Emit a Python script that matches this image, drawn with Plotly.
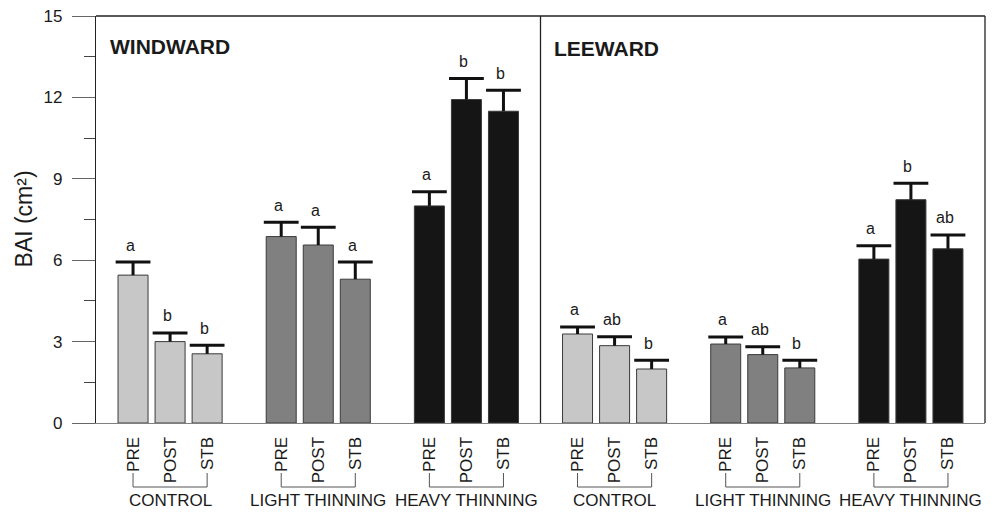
import plotly.graph_objects as go

# ---------------- data ----------------
sites = ["WINDWARD", "LEEWARD"]
groups = ["CONTROL", "LIGHT THINNING", "HEAVY THINNING"]
periods = ["PRE", "POST", "STB"]

windward_bai = [5.45, 3.00, 2.55, 6.87, 6.56, 5.30, 8.00, 11.92, 11.49]
windward_se = [0.48, 0.32, 0.32, 0.53, 0.65, 0.63, 0.52, 0.78, 0.77]
windward_letters = ["a", "b", "b", "a", "a", "a", "a", "b", "b"]

leeward_bai = [3.28, 2.85, 1.99, 2.91, 2.52, 2.03, 6.04, 8.23, 6.42]
leeward_se = [0.26, 0.33, 0.32, 0.26, 0.29, 0.28, 0.49, 0.61, 0.51]
leeward_letters = ["a", "ab", "b", "a", "ab", "b", "a", "b", "ab"]

y_ticks = [0, 3, 6, 9, 12, 15]
y_title = "BAI (cm²)"

# ---------------- styling ----------------
FONT = "Liberation Sans, Arial, Helvetica, sans-serif"
TXT = "#1a1a1a"
group_colors = ["#c6c7c6", "#808080", "#151515"]
BAR_W = 0.81
CAP_HALF = 0.47
PANEL = 12

values = [windward_bai, leeward_bai]
errors = [windward_se, leeward_se]
letters = [windward_letters, leeward_letters]

xs, ys, cols, es, lets = [], [], [], [], []
tickvals, ticktext = [], []
for s in range(len(sites)):
    for g in range(len(groups)):
        for p in range(len(periods)):
            i = g * len(periods) + p
            x = s * PANEL + g * 4 + p + 1
            xs.append(x)
            ys.append(values[s][i])
            es.append(errors[s][i])
            lets.append(letters[s][i])
            cols.append(group_colors[g])
            tickvals.append(x)
            ticktext.append(periods[p])

fig = go.Figure()
fig.add_trace(go.Bar(
    x=xs, y=ys, width=BAR_W,
    marker=dict(color=cols, line=dict(color="#3a3a3a", width=1)),
    showlegend=False, hoverinfo="skip"))

# error bars (upper only)
ex, ey = [], []
for x, v, e in zip(xs, ys, es):
    ex += [x, x, None, x - CAP_HALF, x + CAP_HALF, None]
    ey += [v, v + e, None, v + e, v + e, None]
fig.add_trace(go.Scatter(x=ex, y=ey, mode="lines",
                         line=dict(color="#111111", width=3),
                         showlegend=False, hoverinfo="skip"))

annotations = []
for x, v, e, t in zip(xs, ys, es, lets):
    annotations.append(dict(x=x, y=v + e, text=t, showarrow=False,
                            xanchor="center", yanchor="middle", xshift=-3, yshift=17,
                            font=dict(family=FONT, size=16, color=TXT)))

shapes = []
for s in range(len(sites)):
    for g in range(len(groups)):
        x0 = s * PANEL + g * 4 + 1
        x1 = x0 + len(periods) - 1
        xc = (x0 + x1) / 2
        shapes.append(dict(type="path", xref="x", yref="paper", ysizemode="pixel", yanchor=0,
                           path=f"M {x0},-50 L {x0},-64 L {x1},-64 L {x1},-50",
                           line=dict(color="#555555", width=1)))
        annotations.append(dict(x=xc, y=0, xref="x", yref="paper", text=groups[g],
                                showarrow=False, xanchor="center", yanchor="middle", yshift=-77,
                                font=dict(family=FONT, size=17, color=TXT)))
    annotations.append(dict(x=s * PANEL + 0.32, y=1, xref="x", yref="paper", text=f"<b>{sites[s]}</b>",
                            showarrow=False, xanchor="left", yanchor="middle", yshift=-30 - 2 * s,
                            font=dict(family=FONT, size=21, color=TXT)))

# box borders and divider
shapes.append(dict(type="line", xref="paper", yref="paper", x0=0, x1=1, y0=1, y1=1,
                   line=dict(color="#222222", width=1.3)))
shapes.append(dict(type="line", xref="paper", yref="paper", x0=1, x1=1, y0=0, y1=1,
                   line=dict(color="#222222", width=1.3)))
shapes.append(dict(type="line", xref="x", yref="paper", x0=PANEL, x1=PANEL, y0=0, y1=1,
                   line=dict(color="#222222", width=1.3)))

annotations.append(dict(x=0, y=0.5, xref="paper", yref="paper", text=y_title, textangle=-90,
                        showarrow=False, xanchor="center", yanchor="middle", xshift=-73,
                        font=dict(family=FONT, size=23, color=TXT)))

fig.update_layout(
    width=993, height=513,
    margin=dict(l=96, r=8, t=16, b=90),
    paper_bgcolor="white", plot_bgcolor="white",
    barmode="overlay",
    shapes=shapes, annotations=annotations,
    xaxis=dict(range=[0, 2 * PANEL], showgrid=False, zeroline=False,
               showline=True, linecolor="#808080", linewidth=1.3,
               tickvals=tickvals, ticktext=ticktext, tickangle=-90, ticks="",
               ticklabelstandoff=6,
               tickfont=dict(family=FONT, size=17, color=TXT)),
    yaxis=dict(range=[0, 15], tickvals=y_ticks, showgrid=False, zeroline=False,
               showline=True, linecolor="#222222", linewidth=1.3,
               ticks="outside", ticklen=23, tickcolor="#666666", tickwidth=1.3,
               ticklabelstandoff=6,
               minor=dict(dtick=1.5, tick0=0, ticks="outside", ticklen=11,
                          tickcolor="#444444", tickwidth=1.3),
               tickfont=dict(family=FONT, size=17, color=TXT)),
)

# remove the default 8px page margin so the figure fills the window exactly
fig.write_html("out.html", config={"displayModeBar": False},
               post_script="document.body.style.margin='0';")
